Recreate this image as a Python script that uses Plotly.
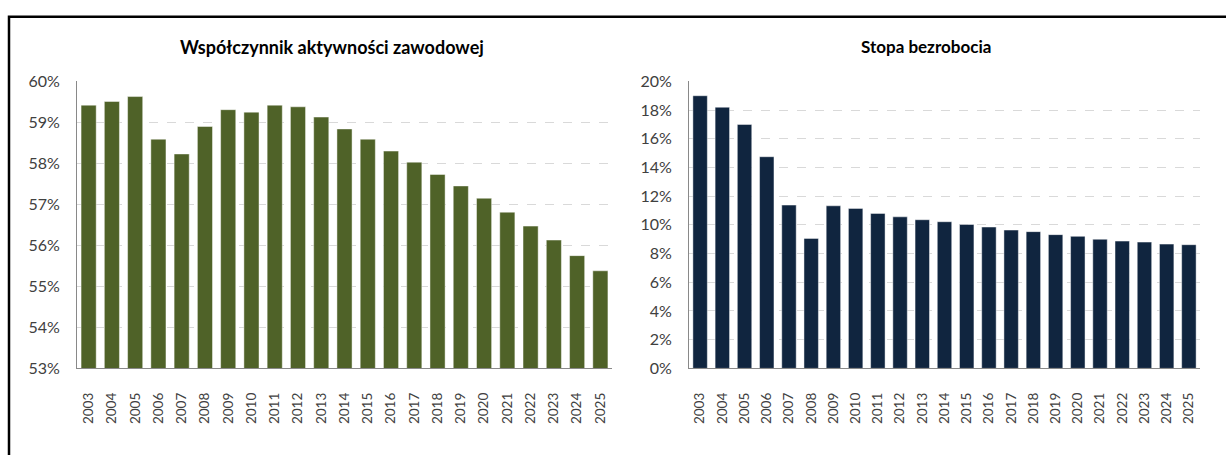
import plotly.graph_objects as go

W, H = 1226, 455

years = [str(y) for y in range(2003, 2026)]
activity_rate = [59.42, 59.51, 59.63, 58.59, 58.23, 58.90, 59.31, 59.25, 59.42, 59.38,
                 59.13, 58.84, 58.59, 58.30, 58.03, 57.73, 57.45, 57.15, 56.81, 56.47,
                 56.13, 55.75, 55.38]
unemployment_rate = [19.0, 18.2, 17.0, 14.75, 11.38, 9.06, 11.33, 11.15, 10.80, 10.56,
                     10.36, 10.22, 10.03, 9.85, 9.64, 9.53, 9.32, 9.20, 9.00, 8.87,
                     8.80, 8.66, 8.62]
title_left = "Współczynnik aktywności zawodowej"
title_right = "Stopa bezrobocia"

GREEN = "#4F6228"
NAVY = "#10253F"
TICK = "#404040"
TICKFONT = dict(family="Lato", size=16, color=TICK)
XTICKFONT = dict(family="Lato", size=13.5, color=TICK)

def px(x):
    return x / W

def py(y):
    return (H - y) / H

fig = go.Figure()
fig.add_trace(go.Bar(x=years, y=activity_rate, marker=dict(color=GREEN, line=dict(color="rgba(255,255,255,0.45)", width=1)),
                     xaxis="x", yaxis="y", hoverinfo="x+y", showlegend=False))
fig.add_trace(go.Bar(x=years, y=unemployment_rate, marker=dict(color=NAVY, line=dict(color="rgba(255,255,255,0.45)", width=1)),
                     xaxis="x2", yaxis="y2", hoverinfo="x+y", showlegend=False))

ydom = [py(374), py(74.5)]
common_x = dict(type="category", tickangle=-90, tickfont=XTICKFONT, showgrid=False,
                showline=True, linecolor="#898989", linewidth=1, ticks="", ticklabelstandoff=18,
                fixedrange=True)
common_y = dict(tickfont=TICKFONT, showgrid=True, gridcolor="#d9d9d9", griddash="dash", gridwidth=1,
                showline=True, linecolor="#898989", linewidth=1, ticks="", ticksuffix="%",
                zeroline=False, ticklabelstandoff=13, fixedrange=True)

fig.update_layout(
    width=W, height=H,
    margin=dict(l=0, r=0, t=0, b=0),
    paper_bgcolor="white", plot_bgcolor="white",
    bargap=0.35,
    xaxis=dict(domain=[px(77), px(612)], anchor="y", **common_x),
    yaxis=dict(domain=ydom, anchor="x", range=[53, 60], dtick=1, **common_y),
    xaxis2=dict(domain=[px(689), px(1200)], anchor="y2", **common_x),
    yaxis2=dict(domain=ydom, anchor="x2", range=[0, 20], dtick=2, **common_y),
    annotations=[
        dict(text=f"<b>{title_left}</b>", x=px(332), y=py(38.5), xref="paper", yref="paper",
             showarrow=False, xanchor="center", yanchor="middle",
             font=dict(family="Lato", size=18, color="#000000")),
        dict(text=f"<b>{title_right}</b>", x=px(926), y=py(38.5), xref="paper", yref="paper",
             showarrow=False, xanchor="center", yanchor="middle",
             font=dict(family="Lato", size=17, color="#000000")),
    ],
    shapes=[
        dict(type="rect", xref="paper", yref="paper", x0=px(9), x1=1.05, y0=-0.1, y1=py(7),
             line=dict(color="black", width=2.5), fillcolor="rgba(0,0,0,0)", layer="above"),
    ],
)

fig.write_html("out.html", config={"displayModeBar": False},
               post_script="document.body.style.margin='0';document.body.style.overflow='hidden';")
